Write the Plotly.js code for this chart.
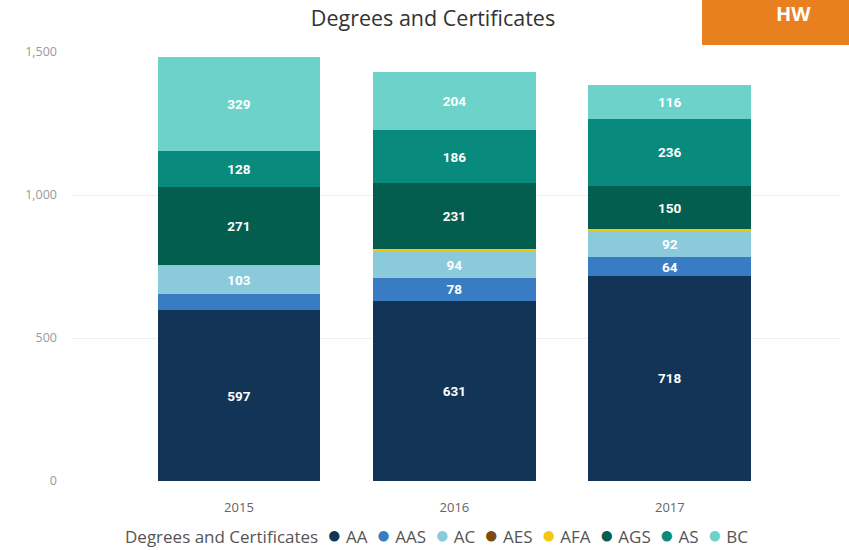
<!DOCTYPE html>
<html>
<head>
<meta charset="utf-8">
<script src="https://cdn.plot.ly/plotly-3.0.1.min.js"></script>
<style>html,body{margin:0;padding:0;background:#fff;}#chart{width:849px;height:550px;}</style>
</head>
<body>
<div id="chart"></div>
<script>
const years = ['2015', '2016', '2017'];
const seriesNames = ['AA', 'AAS', 'AC', 'AES', 'AFA', 'AGS', 'AS', 'BC'];
const AA  = [597, 631, 718];
const AAS = [56, 78, 64];
const AC  = [103, 94, 92];
const AES = [0, 1, 1];
const AFA = [0, 6, 6];
const AGS = [271, 231, 150];
const AS  = [128, 186, 236];
const BC  = [329, 204, 116];
const colors = ['#123456', '#3a7cc3', '#8acadb', '#7a4a12', '#f2c811', '#045e50', '#088a7d', '#6dd3ca'];
const legendTitle = 'Degrees and Certificates';

const seriesValues = [AA, AAS, AC, AES, AFA, AGS, AS, BC];
const traces = seriesValues.map((vals, i) => ({
  type: 'bar', name: seriesNames[i], x: years, y: vals,
  marker: {color: colors[i], line: {width: 0}},
  text: vals.map(v => v >= 60 ? String(v) : ''),
  textposition: 'inside', insidetextanchor: 'middle', constraintext: 'none', textangle: 0,
  textfont: {color: '#ffffff', family: 'Roboto, Arial, sans-serif', size: 13.5, weight: 'bold'},
  showlegend: false, hoverinfo: 'skip', width: 0.755
}));

// legend row as real text: title followed by coloured dots and series names
const legendText = legendTitle + '  ' + seriesNames.map((n, i) =>
  '<span style="color:' + colors[i] + ';font-size:24px">●</span> ' + n).join('  ');

const layout = {
  width: 849, height: 550,
  paper_bgcolor: '#ffffff', plot_bgcolor: '#ffffff',
  margin: {l: 72, r: 9, t: 52, b: 69},
  barmode: 'stack', showlegend: false,
  title: {text: 'Degrees and Certificates', x: 0.51, xanchor: 'center', y: 0.966, yanchor: 'middle',
          font: {family: '"Open Sans", "Noto Sans", sans-serif', size: 21.5, color: '#333333'}},
  xaxis: {type: 'category', range: [-0.775, 2.79], showgrid: false, zeroline: false, showline: false,
          ticks: '', ticklabelstandoff: 17,
          tickfont: {family: '"Open Sans", sans-serif', size: 13, color: '#666666'}},
  yaxis: {range: [0, 1500], tickvals: [0, 500, 1000, 1500], ticktext: ['0', '500', '1,000', '1,500'],
          showgrid: true, gridcolor: '#eeeeee', gridwidth: 1, zeroline: false, showline: false, ticks: '',
          ticklabelstandoff: 14,
          tickfont: {family: '"Open Sans", sans-serif', size: 12.5, color: '#999999'}},
  shapes: [{type: 'rect', xref: 'paper', yref: 'paper', x0: (702 - 72) / 768, x1: (849 - 72) / 768,
            y0: (481 - 45) / 429, y1: 481 / 429, fillcolor: '#e8801f', line: {width: 0}, layer: 'above'}],
  annotations: [
    {text: '<b>HW</b>', xref: 'paper', yref: 'paper', x: (793 - 72) / 768, y: (481 - 13) / 429,
     showarrow: false, xanchor: 'center', yanchor: 'middle',
     font: {family: '"Open Sans", sans-serif', size: 20, color: '#ffffff'}},
    {text: legendText, xref: 'paper', yref: 'paper', x: (123 - 72) / 768, y: (481 - 533) / 429,
     showarrow: false, xanchor: 'left', yanchor: 'middle',
     font: {family: '"Open Sans", sans-serif', size: 17, color: '#555555'}}
  ]
};

Plotly.newPlot('chart', traces, layout, {displayModeBar: false, staticPlot: true});
</script>
</body>
</html>
